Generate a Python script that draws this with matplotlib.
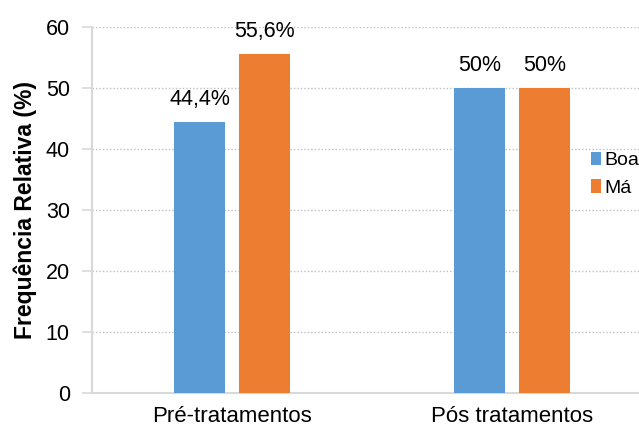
import matplotlib
matplotlib.use("Agg")
import matplotlib.pyplot as plt
import numpy as np

plt.rcParams['font.family'] = ['Liberation Sans', 'DejaVu Sans']

categorias = ["Pré-tratamentos", "Pós tratamentos"]
boa = [44.4, 50.0]
ma = [55.6, 50.0]
rotulos_boa = ["44,4%", "50%"]
rotulos_ma = ["55,6%", "50%"]

cor_boa = "#5B9BD5"
cor_ma = "#ED7D31"
cinza = "#D9D9D9"

fig = plt.figure(figsize=(6.39, 4.30), dpi=100)
ax = fig.add_axes([0.144, 0.086, 0.856, 0.851])

x = np.arange(len(categorias))
w = 0.182
off = 0.116
b1 = ax.bar(x - off, boa, w, color=cor_boa, label="Boa", zorder=3)
b2 = ax.bar(x + off, ma, w, color=cor_ma, label="Má", zorder=3)

# rotulos de dados acima das barras
for bars, labs in ((b1, rotulos_boa), (b2, rotulos_ma)):
    for b, lab in zip(bars, labs):
        ax.text(b.get_x() + b.get_width() / 2, b.get_height() + 2.0, lab,
                ha="center", va="bottom", fontsize=15.5, color="#000000")

ax.set_xlim(-0.5, 1.454)
ax.set_ylim(0, 60)
ax.set_yticks(range(0, 61, 10))
ax.set_xticks(x)
ax.set_xticklabels(categorias)
ax.tick_params(axis="x", length=0, labelsize=16, pad=9, labelcolor="#000000")
ax.tick_params(axis="y", length=7, width=1.2, color=cinza, labelsize=15.5,
               pad=9, labelcolor="#000000")
ax.yaxis.grid(True, linestyle=(0, (1, 1.5)), color="#BFBFBF", linewidth=1, zorder=0)

for s in ("top", "right"):
    ax.spines[s].set_visible(False)
ax.spines["left"].set_color(cinza)
ax.spines["left"].set_linewidth(1.5)
ax.spines["bottom"].set_color(cinza)
ax.spines["bottom"].set_linewidth(1.5)

ax.set_ylabel("Frequência Relativa (%)", fontsize=16.5, fontweight="bold",
              color="#000000", labelpad=6)

ax.legend(loc="center left", bbox_to_anchor=(0.912, 0.598), frameon=False,
          fontsize=14, handlelength=0.5, handleheight=0.7, handletextpad=0.2,
          labelspacing=0.5, borderaxespad=0, borderpad=0)

fig.savefig("out.png", dpi=100)
